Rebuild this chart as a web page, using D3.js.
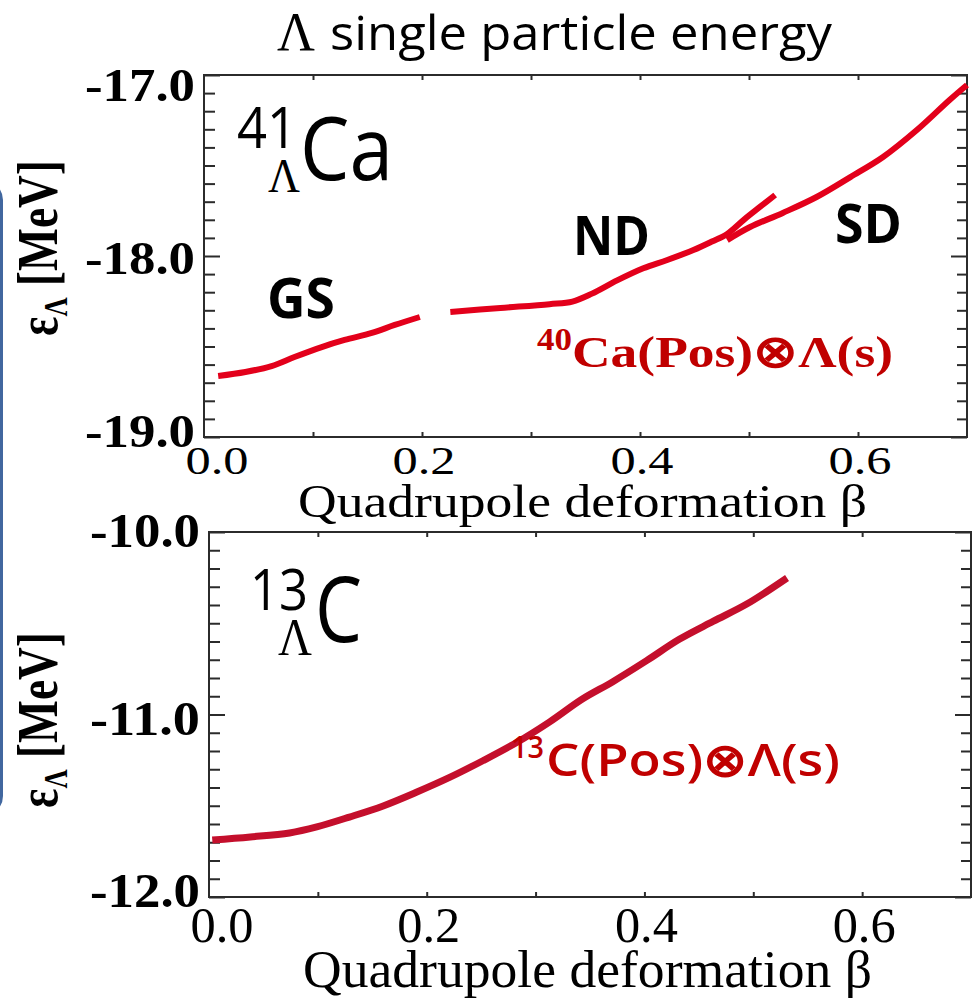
<!DOCTYPE html>
<html>
<head>
<meta charset="utf-8">
<script src="https://cdn.jsdelivr.net/npm/d3@7"></script>
<style>
  body { margin: 0; background: #fff; }
  svg { display: block; }
  .frame { fill: none; stroke: #2b2b2b; stroke-width: 2; }
  .tick line { stroke: #2b2b2b; stroke-width: 2; }
  .sans { font-family: "Open Sans", sans-serif; }
  .serif { font-family: "Liberation Serif", "Times New Roman", serif; }
</style>
</head>
<body>
<svg width="973" height="1001"></svg>
<script>
// ---- data ----
const betaTicks = [0.0, 0.2, 0.4, 0.6];
const caTicks = [-17.0, -18.0, -19.0];
const cTicks = [-10.0, -11.0, -12.0];

// 41-Lambda-Ca : [beta, energy MeV]
const caGS = [[0.013,-18.663],[0.038,-18.641],[0.062,-18.608],[0.083,-18.558],[0.108,-18.503],
  [0.129,-18.464],[0.154,-18.425],[0.175,-18.381],[0.198,-18.337]];
const caND = [[0.226,-18.309],[0.272,-18.287],[0.317,-18.266],[0.338,-18.252],[0.356,-18.208],
  [0.379,-18.135],[0.403,-18.068],[0.425,-18.022],[0.449,-17.967],[0.466,-17.920],[0.480,-17.878],
  [0.496,-17.796],[0.510,-17.729],[0.524,-17.663]];
const caSD = [[0.480,-17.912],[0.501,-17.840],[0.531,-17.762],[0.562,-17.674],[0.593,-17.564],
  [0.623,-17.453],[0.654,-17.304],[0.684,-17.138],[0.700,-17.055]];

// 13-Lambda-C
const cPos = [[0.003,-11.688],[0.038,-11.671],[0.074,-11.649],[0.099,-11.616],[0.129,-11.562],
  [0.160,-11.501],[0.191,-11.425],[0.221,-11.345],[0.252,-11.252],[0.283,-11.152],[0.313,-11.040],
  [0.343,-10.915],[0.371,-10.820],[0.402,-10.705],[0.432,-10.588],[0.463,-10.490],[0.494,-10.395],
  [0.531,-10.252]];

const svg = d3.select('svg');

// blue box edge on the far left
svg.append('rect')
  .attr('x', -100).attr('y', 182).attr('width', 101.5).attr('height', 632).attr('rx', 18)
  .attr('fill', 'none').attr('stroke', '#41679f').attr('stroke-width', 3);

const drawPanel = p => {
  const x = d3.scaleLinear().domain([0, 0.7]).range([p.left, p.right]);
  const y = d3.scaleLinear().domain(p.yDomain).range([p.bottom, p.top]);
  const g = svg.append('g');

  const minor = d3.range(0, 21).map(i => p.yDomain[0] + i * 0.1);
  const isMajor = v => Math.abs(v - Math.round(v)) < 1e-6;
  const xMinor = d3.range(1, 7).map(i => i / 10);

  const addAxis = (axis, tr) => {
    const a = g.append('g').attr('transform', tr).call(axis);
    a.select('.domain').remove();
    a.selectAll('text').remove();
  };
  addAxis(d3.axisLeft(y).tickValues(minor.filter(v => !isMajor(v))).tickSize(-11), `translate(${p.left},0)`);
  addAxis(d3.axisLeft(y).tickValues(minor.filter(isMajor)).tickSize(-16), `translate(${p.left},0)`);
  addAxis(d3.axisRight(y).tickValues(minor.filter(v => !isMajor(v))).tickSize(-10), `translate(${p.right},0)`);
  addAxis(d3.axisRight(y).tickValues(minor.filter(isMajor)).tickSize(-16), `translate(${p.right},0)`);
  addAxis(d3.axisBottom(x).tickValues(xMinor).tickSize(-5), `translate(0,${p.bottom})`);
  addAxis(d3.axisTop(x).tickValues(xMinor).tickSize(-5), `translate(0,${p.top})`);

  g.append('rect').attr('class', 'frame')
    .attr('x', p.left).attr('y', p.top)
    .attr('width', p.right - p.left).attr('height', p.bottom - p.top);

  // y tick labels
  g.selectAll('.ylab').data(p.yTicks).enter().append('text')
    .attr('class', 'serif')
    .attr('x', p.left - 9)
    .attr('y', (d, i) => y(d) + p.yLabShift[i])
    .attr('dy', '0.35em')
    .attr('text-anchor', 'end')
    .attr('font-weight', 'bold')
    .attr('font-size', p.yLabSize)
    .attr('textLength', 110).attr('lengthAdjust', 'spacingAndGlyphs')
    .text(d => d.toFixed(1));

  // x tick labels
  g.selectAll('.xlab').data(betaTicks).enter().append('text')
    .attr('class', 'serif')
    .attr('x', (d, i) => x(d) + (i === 0 ? 13 : 2))
    .attr('y', p.xLabBase)
    .attr('text-anchor', 'middle')
    .attr('font-size', p.xLabSize)
    .attr('textLength', 63).attr('lengthAdjust', 'spacingAndGlyphs')
    .text(d => d.toFixed(1));

  // x axis title
  g.append('text').attr('class', 'serif')
    .attr('x', p.xTitleX).attr('y', p.xTitleBase)
    .attr('font-size', p.xTitleSize)
    .attr('textLength', 569).attr('lengthAdjust', 'spacingAndGlyphs')
    .text('Quadrupole deformation β');

  // y axis title
  const yt = g.append('text').attr('class', 'serif')
    .attr('transform', `translate(57,${p.yTitleMid}) rotate(-90)`)
    .attr('text-anchor', 'middle')
    .attr('font-weight', 'bold')
    .attr('font-size', 58)
    .attr('textLength', 176).attr('lengthAdjust', 'spacingAndGlyphs');
  yt.append('tspan').text('ε');
  yt.append('tspan').attr('font-size', 34).attr('dy', 10).text('Λ');
  yt.append('tspan').attr('dy', -10).text(' [MeV]');

  const line = d3.line().x(d => x(d[0])).y(d => y(d[1])).curve(d3.curveCatmullRom);
  p.series.forEach(s => {
    g.append('path').attr('d', line(s))
      .attr('fill', 'none').attr('stroke', p.color)
      .attr('stroke-width', p.lineWidth).attr('stroke-linecap', 'butt');
  });
  return g;
};

drawPanel({
  left: 204, right: 967, top: 75, bottom: 437, yDomain: [-19, -17],
  yTicks: caTicks, yLabShift: [10, 2, -6], yLabSize: 46,
  xLabBase: 474, xLabSize: 40,
  xTitleX: 298, xTitleBase: 517, xTitleSize: 46, yTitleMid: 248,
  series: [caGS, caND, caSD], color: '#e3001b', lineWidth: 6
});

drawPanel({
  left: 209, right: 971, top: 532, bottom: 897, yDomain: [-12, -10],
  yTicks: cTicks, yLabShift: [-2, 4, -7], yLabSize: 48,
  xLabBase: 942, xLabSize: 50,
  xTitleX: 303, xTitleBase: 987, xTitleSize: 52, yTitleMid: 720,
  series: [cPos], color: '#c40f2c', lineWidth: 7
});

// ---- annotations ----
const txt = (cls, x, y, size, len, s, opts = {}) => {
  const t = svg.append('text').attr('class', cls)
    .attr('x', x).attr('y', y).attr('font-size', size)
    .attr('textLength', len).attr('lengthAdjust', 'spacingAndGlyphs')
    .attr('fill', opts.fill || '#000')
    .attr('font-weight', opts.weight || 'normal')
    .text(s);
  return t;
};

// title
txt('serif', 277, 50, 55, 38, 'Λ');
txt('sans', 330, 50, 47, 502, 'single particle energy');

// nucleus labels (superscript mass number stacked over subscript Λ)
txt('sans', 237, 148, 56, 60, '41');
txt('serif', 268, 192, 49, 32, 'Λ');
txt('sans', 300, 180, 88, 93, 'Ca');

txt('sans', 250, 610, 56, 58, '13');
txt('serif', 278, 655, 52, 34, 'Λ');
txt('sans', 315, 642, 91, 47, 'C');

// state labels
txt('sans', 267, 318, 56, 68, 'GS', { weight: 'bold' });
txt('sans', 573, 255, 53, 77, 'ND', { weight: 'bold' });
txt('sans', 835, 243, 53, 67, 'SD', { weight: 'bold' });

// configuration labels
const red = '#c00000';
txt('serif', 537, 350, 31, 35, '40', { fill: red, weight: 'bold' });
txt('serif', 572, 367, 45, 321, 'Ca(Pos)⊗Λ(s)', { fill: red, weight: 'bold' });
txt('sans', 511, 758, 30, 33, '13', { fill: red, weight: 600 });
txt('sans', 546, 776, 46, 294, 'C(Pos)⊗Λ(s)', { fill: red, weight: 600 });
</script>
</body>
</html>
